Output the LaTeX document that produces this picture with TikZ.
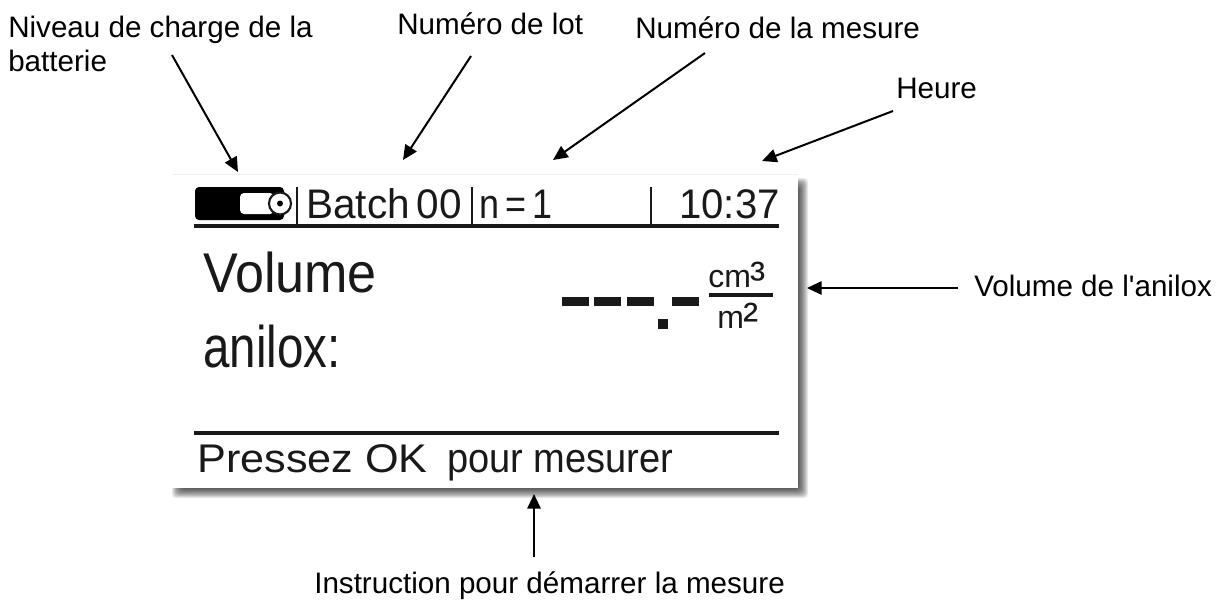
\documentclass[tikz,border=0pt]{standalone}
\usepackage{fontspec}
\setmainfont{Liberation Sans}
\usetikzlibrary{arrows.meta}
\tikzset{
  label/.style={font=\fontsize{22.2}{26}\selectfont,inner sep=0pt,text=black,anchor=base west},
  fleche/.style={-{Triangle[length=11pt,width=10pt]},line width=1.5pt},
  lcd/.style 2 args={font=\fontsize{#1}{#1}\selectfont,inner sep=0pt,anchor=base west,text=black!90,xscale=#2,transform shape},
  trait/.style={line width=3pt,black!90},
  tiret/.style={fill=black!90}
}
\begin{document}
\begin{tikzpicture}[x=0.75pt,y=-0.75pt]
  \useasboundingbox (0,0) rectangle (1226,603);
  \fill[white] (0,0) rectangle (1226,603);
  %ombre de l'ecran
  \foreach \r in {0,1,...,9} {
    \fill[black,opacity=0.09,rounded corners=3pt] ({172+\r},{178+\r}) rectangle ({808-\r},{498-\r});
  }
  \fill[white] (172,175) rectangle (798,488);
  \draw[black!6,line width=0.5pt] (172,174.5) -- (798,174.5);
  %barre du haut
  \coordinate (hautA) at (194,226);
  \coordinate (hautB) at (779,226);
  \draw[trait] (hautA) -- (hautB);
  \foreach \x in {297,472,651} {
    \draw[black!90,line width=2pt] (\x,187) -- (\x,226);
  }
  %batterie
  \fill[black,rounded corners=3pt] (195,187) rectangle (284,220);
  \fill[white,rounded corners=3pt] (240,193) rectangle (274,214);
  \draw[black!90,fill=white,line width=1.6pt] (280,203.5) circle (11);
  \fill[black] (280,203.5) circle (3);
  \node[lcd={31}{0.98}] (lot) at (306,218) {Batch\,00};
  \node[lcd={31}{0.87}] (mesure) at (479,218) {n\,=\,1};
  \node[lcd={31}{0.97}] (heure) at (679,218) {10:37};
  %corps
  \node[lcd={42}{0.93}] (volume) at (203,292) {Volume};
  \node[lcd={44}{0.81}] (anilox) at (203,367) {anilox:};
  \node[lcd={24}{1}] (cm) at (708,287) {cm{\fontsize{34}{34}\selectfont\raisebox{-5pt}{³}}};
  \node[lcd={24}{1}] (m) at (717,328) {m{\fontsize{34}{34}\selectfont\raisebox{-5pt}{²}}};
  \coordinate (fracA) at (709,295);
  \coordinate (fracB) at (773,295);
  \draw[black!90,line width=2.6pt] (fracA) -- (fracB);
  \foreach \x in {562,594,627,672} {
    \fill[tiret] (\x,297) rectangle ({\x+27},306);
  }
  \fill[tiret] (658,319) rectangle (668,329);
  %barre du bas
  \coordinate (basA) at (194,433);
  \coordinate (basB) at (779,433);
  \draw[trait] (basA) -- (basB);
  \node[lcd={30}{1.08}] (pressez) at (197,472) {Pressez OK};
  \node[lcd={31}{0.92}] (pour) at (447,472) {pour mesurer};
  %textes
  \node[label] (niveau) at (8,37) {Niveau de charge de la};
  \node[label] (batterie) at (8,71) {batterie};
  \node[label] (numlot) at (397,34) {Numéro de lot};
  \node[label] (nummes) at (635,38) {Numéro de la mesure};
  \node[label] (txtheure) at (896,98) {Heure};
  \node[label] (txtvol) at (974,296) {Volume de l\textquotesingle anilox};
  \node[label] (txtinstr) at (314,593) {Instruction pour démarrer la mesure};
  %fleches
  \coordinate (a1) at (172,55);  \coordinate (b1) at (238,172);
  \coordinate (a2) at (471,56);  \coordinate (b2) at (403,160);
  \coordinate (a3) at (705,53);  \coordinate (b3) at (553,160);
  \coordinate (a4) at (893,111); \coordinate (b4) at (762,161);
  \coordinate (a5) at (958,288); \coordinate (b5) at (807,288);
  \coordinate (a6) at (534,557); \coordinate (b6) at (534,494);
  \foreach \i in {1,...,6} {
    \draw[fleche] (a\i) -- (b\i);
  }
\end{tikzpicture}
\end{document}
